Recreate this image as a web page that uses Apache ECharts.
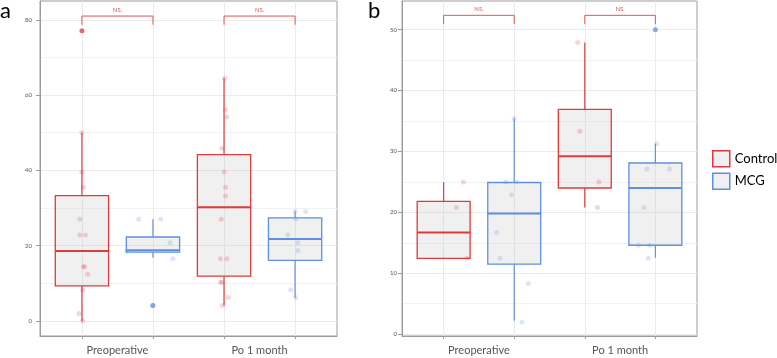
<!DOCTYPE html>
<html>
<head>
<meta charset="utf-8">
<script src="https://cdn.jsdelivr.net/npm/echarts@6/dist/echarts.min.js"></script>
<style>
  html, body { margin: 0; padding: 0; background: #fff; }
  #chart { width: 777px; height: 358px; }
</style>
</head>
<body>
<div id="chart"></div>
<script>
    'use strict';

    // categories and groups
    var categories = ['Preoperative', 'Po 1 month'];
    var groups = ['Control', 'MCG'];

    // box stats: [position, low whisker, q1, median, q3, high whisker]
    // positions: 0 = Preop/Control, 1 = Preop/MCG, 2 = Po/Control, 3 = Po/MCG
    var boxControlA = [[0, 0, 9.3, 18.6, 33.3, 50.0], [2, 4.1, 11.9, 30.2, 44.2, 64.5]];
    var boxMcgA = [[1, 16.8, 18.3, 18.8, 22.3, 27.0], [3, 6.2, 16.1, 21.8, 27.4, 29.1]];
    var boxControlB = [[0, 12.45, 12.45, 16.7, 21.8, 24.95], [2, 20.8, 24.0, 29.2, 36.9, 47.9]];
    var boxMcgB = [[1, 2.2, 11.5, 19.8, 24.9, 35.4], [3, 12.55, 14.6, 24.0, 28.1, 31.25]];

    // jittered points: [x, value]
    var pointsControlA = [
        [0, 50], [0, 39.6], [0.02, 35.5], [-0.03, 27], [-0.03, 22.8], [0.05, 22.8],
        [0.02, 14.4], [0.04, 14.4], [0.08, 12.4], [0.01, 8.2], [-0.04, 2.0], [0.01, 0],
        [2.01, 64.5], [2.02, 56.2], [2.04, 54.2], [1.97, 45.9], [2.0, 39.6], [2.02, 35.5],
        [2.02, 33.2], [1.96, 27], [1.95, 16.5], [2.04, 16.5], [1.95, 10.3], [1.97, 10.3],
        [2.06, 6.2], [1.98, 4.1]
    ];
    var pointsMcgA = [
        [0.8, 27], [1.11, 27], [1.24, 20.8], [0.63, 18.6], [1.28, 16.5], [0.99, 4.1],
        [3.0, 29.1], [3.15, 29.1], [3.01, 27.1], [2.9, 22.9], [3.04, 20.8], [3.04, 18.7],
        [2.94, 8.3], [3.01, 6.2]
    ];
    var pointsControlB = [
        [0.28, 25], [0.18, 20.8], [0.33, 12.45],
        [1.9, 47.9], [1.93, 33.3], [2.2, 25], [2.18, 20.8]
    ];
    var pointsMcgB = [
        [1.0, 35.4], [0.88, 25], [1.03, 25], [0.96, 22.9], [0.75, 16.7], [0.8, 12.45],
        [1.2, 8.3], [1.11, 2.0],
        [3.02, 31.25], [2.88, 27.1], [3.2, 27.1], [2.84, 20.8], [2.76, 14.6], [2.92, 14.6],
        [2.9, 12.45]
    ];

    // outliers drawn by the boxplot: [x, value]
    var outliersControlA = [[0, 77.1]];
    var outliersMcgA = [[1, 4.1]];
    var outliersMcgB = [[3, 50]];

    // significance brackets: [x from, x to, top, end of legs]
    var bracketsA = [[0, 1, 81.0, 78.7], [2, 3, 81.0, 78.7]];
    var bracketsB = [[0, 1, 52.35, 50.9], [2, 3, 52.35, 50.9]];
    var bracketLabel = 'NS.';

    // tick values
    var yTicksA = [0, 20, 40, 60, 80];
    var yMinorA = [10, 30, 50, 70];
    var yTicksB = [0, 10, 20, 30, 40, 50];
    var yMinorB = [5, 15, 25, 35, 45];
    var xTicks = [0, 1, 2, 3];
    var xLabelPos = [0.5, 2.5];

    var RED = '#e03a3a';
    var BLUE = '#5f8fe4';
    var BOX_FILL = 'rgba(185,185,185,0.22)';
    var FRAME = '#9c9c9c';
    var GRIDLINE = '#ebebeb';
    var FONT = 'Lato, "Open Sans", sans-serif';
    var boxWidth = 0.75;

    var renderBox = function (params, api) {
        var x = api.value(0);
        var low = api.coord([x, api.value(1)]);
        var q1 = api.coord([x, api.value(2)]);
        var med = api.coord([x, api.value(3)]);
        var q3 = api.coord([x, api.value(4)]);
        var high = api.coord([x, api.value(5)]);
        var half = api.size([boxWidth, 0])[0] / 2;
        var color = api.visual('color');
        return {
            type : 'group',
            children : [
                { type : 'line', shape : { x1 : low[0], y1 : low[1], x2 : q1[0], y2 : q1[1] }, style : { stroke : color, lineWidth : 1.2 } },
                { type : 'line', shape : { x1 : q3[0], y1 : q3[1], x2 : high[0], y2 : high[1] }, style : { stroke : color, lineWidth : 1.2 } },
                { type : 'rect', shape : { x : q3[0] - half, y : q3[1], width : half * 2, height : q1[1] - q3[1] },
                  style : { fill : BOX_FILL, stroke : color, lineWidth : 1.3 } },
                { type : 'line', shape : { x1 : med[0] - half, y1 : med[1], x2 : med[0] + half, y2 : med[1] }, style : { stroke : color, lineWidth : 2 } }
            ]
        };
    };

    var renderBracket = function (params, api) {
        var a = api.coord([api.value(0), api.value(3)]);
        var b = api.coord([api.value(0), api.value(2)]);
        var c = api.coord([api.value(1), api.value(2)]);
        var d = api.coord([api.value(1), api.value(3)]);
        return {
            type : 'group',
            children : [
                { type : 'polyline', shape : { points : [a, b, c, d] }, style : { stroke : '#e65353', lineWidth : 1, fill : null } },
                { type : 'text', x : (b[0] + c[0]) / 2, y : b[1] - 3,
                  style : { text : bracketLabel, fill : '#e65353', fontSize : 6, fontFamily : FONT, align : 'center', verticalAlign : 'bottom' } }
            ]
        };
    };

    var makeXAxis = function (gridIndex) {
        return {
            type : 'value', gridIndex : gridIndex, min : -0.59, max : 3.59,
            axisLine : { show : true, onZero : false, lineStyle : { color : FRAME, width : 1 } },
            axisTick : { show : true, length : 3, customValues : xTicks, lineStyle : { color : FRAME } },
            axisLabel : {
                show : true, customValues : xLabelPos, margin : 9,
                fontSize : 11, color : '#555', fontFamily : FONT,
                formatter : function (v) { return categories[Math.round((v - 0.5) / 2)]; }
            },
            splitLine : { show : true, lineStyle : { color : GRIDLINE, width : 1 } }
        };
    };

    var makeYAxis = function (gridIndex, min, max, ticks, margin) {
        return {
            type : 'value', gridIndex : gridIndex, min : min, max : max, position : 'left',
            axisLine : { show : true, onZero : false, lineStyle : { color : FRAME, width : 1 } },
            axisTick : { show : true, length : 4, customValues : ticks, lineStyle : { color : FRAME } },
            axisLabel : { show : true, customValues : ticks, margin : margin, fontSize : 6, color : '#555', fontFamily : FONT },
            splitLine : { show : true, lineStyle : { color : GRIDLINE, width : 1 } }
        };
    };

    var makeMinorAxis = function (gridIndex, min, max, ticks) {
        return {
            type : 'value', gridIndex : gridIndex, min : min, max : max, position : 'left',
            axisLine : { show : false, onZero : false },
            axisTick : { show : false, customValues : ticks },
            axisLabel : { show : false },
            splitLine : { show : true, lineStyle : { color : '#f2f2f2', width : 1 } }
        };
    };

    var boxSeries = function (name, data, xi, yi, color) {
        return {
            name : name, type : 'custom', xAxisIndex : xi, yAxisIndex : yi,
            renderItem : renderBox, itemStyle : { color : color },
            encode : { x : 0, y : [1, 2, 3, 4, 5] }, data : data, z : 3, silent : true
        };
    };

    var pointSeries = function (name, data, xi, yi, color, opacity) {
        return {
            name : name, type : 'scatter', xAxisIndex : xi, yAxisIndex : yi,
            symbolSize : 5, itemStyle : { color : color, opacity : opacity },
            data : data, z : 4, silent : true
        };
    };

    var bracketSeries = function (data, xi, yi) {
        return {
            type : 'custom', xAxisIndex : xi, yAxisIndex : yi, renderItem : renderBracket,
            encode : { x : [0, 1], y : [2, 3] }, data : data, z : 5, silent : true
        };
    };

    var option = {
        animation : false,
        backgroundColor : '#fff',
        textStyle : { fontFamily : FONT },
        grid : [
            { left : 40, top : 1, width : 297, height : 335, show : true, borderColor : FRAME, borderWidth : 1, backgroundColor : '#fff' },
            { left : 402, top : 1, width : 295, height : 335, show : true, borderColor : FRAME, borderWidth : 1, backgroundColor : '#fff' }
        ],
        xAxis : [ makeXAxis(0), makeXAxis(1) ],
        yAxis : [
            makeYAxis(0, -4, 85, yTicksA, 8),
            makeMinorAxis(0, -4, 85, yMinorA),
            makeYAxis(1, -0.3, 54.7, yTicksB, 5),
            makeMinorAxis(1, -0.3, 54.7, yMinorB)
        ],
        legend : {
            orient : 'vertical', left : 712, top : 150, padding : 0,
            itemWidth : 17, itemHeight : 16, itemGap : 5,
            textStyle : { fontSize : 13, color : '#000', fontFamily : FONT },
            selectedMode : false,
            data : [
                { name : groups[0], icon : 'rect', itemStyle : { color : '#f0f0f0', borderColor : RED, borderWidth : 1.5 } },
                { name : groups[1], icon : 'rect', itemStyle : { color : '#f0f0f0', borderColor : BLUE, borderWidth : 1.5 } }
            ]
        },
        graphic : [
            { type : 'text', left : 0, top : 0, style : { text : 'a', fontSize : 22, fontFamily : FONT, fill : '#000' } },
            { type : 'text', left : 368, top : 0, style : { text : 'b', fontSize : 22, fontFamily : FONT, fill : '#000' } }
        ],
        series : [
            boxSeries(groups[0], boxControlA, 0, 0, RED),
            boxSeries(groups[1], boxMcgA, 0, 0, BLUE),
            boxSeries(groups[0], boxControlB, 1, 2, RED),
            boxSeries(groups[1], boxMcgB, 1, 2, BLUE),
            pointSeries(groups[0], pointsControlA, 0, 0, RED, 0.22),
            pointSeries(groups[1], pointsMcgA, 0, 0, BLUE, 0.22),
            pointSeries(groups[0], pointsControlB, 1, 2, RED, 0.22),
            pointSeries(groups[1], pointsMcgB, 1, 2, BLUE, 0.22),
            pointSeries(groups[0], outliersControlA, 0, 0, RED, 0.75),
            pointSeries(groups[1], outliersMcgA, 0, 0, BLUE, 0.75),
            pointSeries(groups[1], outliersMcgB, 1, 2, BLUE, 0.75),
            bracketSeries(bracketsA, 0, 0),
            bracketSeries(bracketsB, 1, 2)
        ]
    };

    var chart = echarts.init(document.getElementById('chart'), null, { renderer : 'canvas' });
    chart.setOption(option);
</script>
</body>
</html>
